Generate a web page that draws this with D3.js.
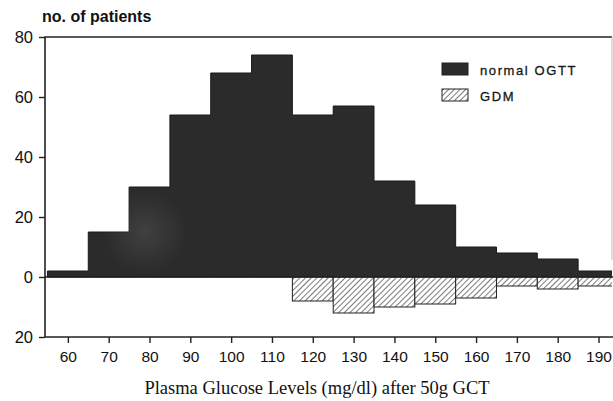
<!DOCTYPE html>
<html>
<head>
<meta charset="utf-8">
<script src="https://cdn.jsdelivr.net/npm/d3@7"></script>
<style>
body { margin: 0; background: #fff; }
svg text { fill: #111; }
</style>
</head>
<body>
<script>
// bins of 10 mg/dl, centred on the tick values
var bin_centers = [60, 70, 80, 90, 100, 110, 120, 130, 140, 150, 160, 170, 180, 190];
var normal_ogtt = [2, 15, 30, 54, 68, 74, 54, 57, 32, 24, 10, 8, 6, 2];
var gdm = [0, 0, 0, 0, 0, 0, 8, 12, 10, 9, 7, 3, 4, 3];
var x_ticks = [60, 70, 80, 90, 100, 110, 120, 130, 140, 150, 160, 170, 180, 190];
var y_ticks = [80, 60, 40, 20, 0, -20];

var w = 613, h = 401;
var left = 45, right = 612, top_ = 37, bottom = 337;
var dark = "#2b2b2b";

var x = d3.scaleLinear().domain([54.4, 193.3]).range([left, right]);
var y = d3.scaleLinear().domain([-20, 80]).range([bottom, top_]);

var svg = d3.select("body").append("svg")
	.attr("width", w)
	.attr("height", h);

var defs = svg.append("defs");
var hatch = defs.append("pattern")
	.attr("id", "hatch")
	.attr("patternUnits", "userSpaceOnUse")
	.attr("width", 4)
	.attr("height", 4)
	.attr("patternTransform", "rotate(45)");
hatch.append("rect").attr("width", 4).attr("height", 4).attr("fill", "#fff");
hatch.append("line")
	.attr("x1", 0).attr("y1", 0).attr("x2", 0).attr("y2", 4)
	.attr("stroke", "#222").attr("stroke-width", 1.2);

// faint lighter spot seen in the scan
var spot = defs.append("radialGradient").attr("id", "spot")
	.attr("gradientUnits", "userSpaceOnUse")
	.attr("cx", 145).attr("cy", 232).attr("r", 42);
spot.append("stop").attr("offset", "0%").attr("stop-color", "#fff").attr("stop-opacity", 0.1);
spot.append("stop").attr("offset", "100%").attr("stop-color", "#fff").attr("stop-opacity", 0);

defs.append("clipPath").attr("id", "plot")
	.append("rect")
	.attr("x", left).attr("y", top_)
	.attr("width", right - left).attr("height", bottom - top_);

var plot = svg.append("g").attr("clip-path", "url(#plot)");

// dark bars drawn as one outline so neighbours merge like the print
var area = d3.area()
	.curve(d3.curveStepAfter)
	.x(function(d) { return x(d[0]); })
	.y0(y(0))
	.y1(function(d) { return y(d[1]); });
var steps = bin_centers.map(function(d, i) { return [d - 5, normal_ogtt[i]]; });
steps.push([bin_centers[bin_centers.length - 1] + 5, 0]);
plot.append("path")
	.datum(steps)
	.attr("d", area)
	.attr("fill", dark)
	.attr("stroke", "#1a1a1a")
	.attr("stroke-width", 1);
plot.append("path")
	.datum(steps)
	.attr("d", area)
	.attr("fill", "url(#spot)");

plot.selectAll("rect.gdm")
	.data(bin_centers.filter(function(d, i) { return gdm[i] > 0; }))
	.enter().append("rect")
	.attr("class", "gdm")
	.attr("x", function(d) { return x(d - 5); })
	.attr("width", function(d) { return x(d + 5) - x(d - 5); })
	.attr("y", y(0))
	.attr("height", function(d) { return y(-gdm[bin_centers.indexOf(d)]) - y(0); })
	.attr("fill", "url(#hatch)")
	.attr("stroke", "#222")
	.attr("stroke-width", 1);

// zero line
svg.append("line")
	.attr("x1", left).attr("x2", w)
	.attr("y1", y(0)).attr("y2", y(0))
	.attr("stroke", "#222").attr("stroke-width", 1.4);

// frame
svg.append("path")
	.attr("d", "M" + right + " " + top_ + " L" + left + " " + top_ + " L" + left + " " + bottom + " L" + w + " " + bottom)
	.attr("fill", "none").attr("stroke", "#222").attr("stroke-width", 1.6);
svg.append("line")
	.attr("x1", right).attr("x2", right).attr("y1", top_).attr("y2", 260)
	.attr("stroke", "#bbb").attr("stroke-width", 1);

// y axis
var yAxis = d3.axisLeft(y)
	.tickValues(y_ticks)
	.tickSize(6)
	.tickPadding(6)
	.tickFormat(function(d) { return Math.abs(d); });
var yg = svg.append("g").attr("transform", "translate(" + left + ",0)").call(yAxis);
yg.select(".domain").remove();
yg.selectAll("line").attr("stroke", "#222").attr("stroke-width", 1.4);
yg.selectAll("text")
	.attr("font-family", "Liberation Sans, Arial, sans-serif")
	.attr("font-size", 16.5)
	.attr("fill", "#111");

// x axis
var xAxis = d3.axisBottom(x)
	.tickValues(x_ticks)
	.tickSize(6)
	.tickPadding(8)
	.tickFormat(d3.format("d"));
var xg = svg.append("g").attr("transform", "translate(0," + bottom + ")").call(xAxis);
xg.select(".domain").remove();
xg.selectAll("line").attr("stroke", "#222").attr("stroke-width", 1.4);
xg.selectAll("text")
	.attr("font-family", "Liberation Sans, Arial, sans-serif")
	.attr("font-size", 15.5)
	.attr("fill", "#111");

svg.append("text")
	.attr("x", 42).attr("y", 22)
	.attr("font-family", "Liberation Sans, Arial, sans-serif")
	.attr("font-size", 16)
	.attr("font-weight", "bold")
	.attr("fill", "#222")
	.text("no. of patients");

svg.append("text")
	.attr("x", 317).attr("y", 394)
	.attr("text-anchor", "middle")
	.attr("font-family", "Liberation Serif, Times New Roman, serif")
	.attr("font-size", 18.5)
	.attr("fill", "#111")
	.text("Plasma Glucose Levels (mg/dl) after 50g GCT");

// legend
var legend_items = ["normal OGTT", "GDM"];
var lg = svg.append("g");
legend_items.forEach(function(name, i) {
	lg.append("rect")
		.attr("x", 442).attr("y", 63 + i * 26)
		.attr("width", 26).attr("height", 12)
		.attr("fill", i == 0 ? dark : "url(#hatch)")
		.attr("stroke", "#222").attr("stroke-width", 1);
	lg.append("text")
		.attr("x", 480).attr("y", 75 + i * 26)
		.attr("font-family", "Liberation Sans, Arial, sans-serif")
		.attr("font-size", 13)
		.attr("letter-spacing", 1.6)
		.attr("stroke", "#222")
		.attr("stroke-width", 0.3)
		.attr("fill", "#222")
		.text(name);
});
</script>
</body>
</html>
